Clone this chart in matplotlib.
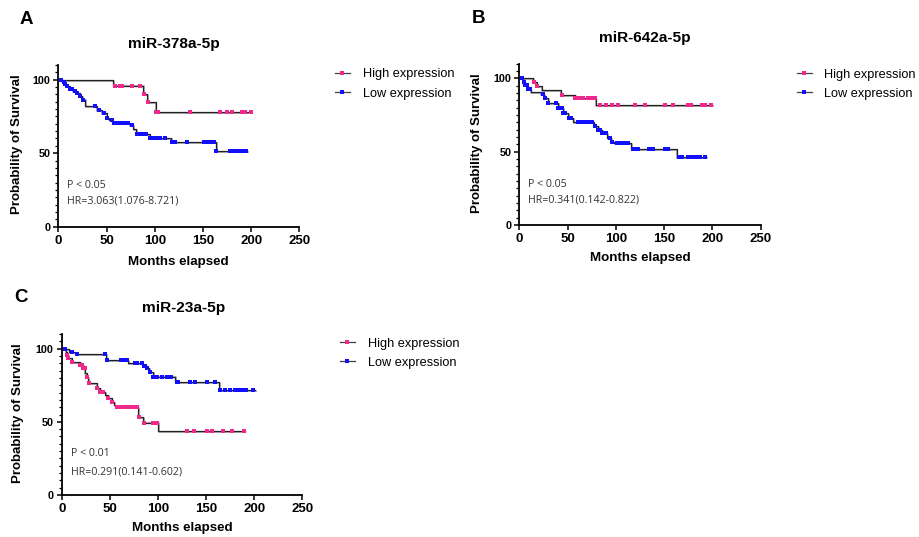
import numpy as np
import matplotlib
matplotlib.use('Agg')
from matplotlib import pyplot as plt
from matplotlib.lines import Line2D
from matplotlib.transforms import offset_copy

plt.rcParams['font.family'] = ['Liberation Sans', 'DejaVu Sans']

PINK = '#f0288c'
BLUE = '#1010ff'

# ---- panel A: miR-378a-5p ----
a_high_t = [0, 57, 88, 92, 101]
a_high_s = [100, 96, 90.3, 84.5, 77.8]
a_high_end = 200
a_high_cens = [59, 64, 66, 76, 85, 89, 93, 101.5, 103, 137, 168, 175, 180, 191, 194, 200]

a_low_t = [0, 4, 6, 9, 12, 15, 19, 22, 25, 28, 40, 45, 50, 53, 56, 74, 78, 81, 95, 117, 164]
a_low_s = [100, 98.5, 97, 95.5, 94, 92.5, 90.8, 89, 86.5, 82.3, 79.6, 77.4, 74, 72.4, 70.5,
           69.2, 66.4, 63, 60.3, 57.8, 51.2]
a_low_end = 196
a_low_cens = [3, 5.5, 7, 9, 12, 14, 17, 19.5, 23, 26, 38, 42, 47, 50.5, 55.7, 58, 61, 63, 64.5,
              66, 68, 70, 72, 76.5, 82, 85, 87, 91, 95.5, 98, 101, 104, 106, 111, 118, 121.5,
              133.5, 151, 154, 158, 161, 164, 178, 182, 184, 186, 189, 191.5, 195]

# ---- panel B: miR-642a-5p ----
b_high_t = [0, 14.5, 18, 23, 43, 57.7, 79]
b_high_s = [100, 97.7, 94.8, 91.8, 88.8, 86.7, 81.8]
b_high_end = 200
b_high_cens = [15, 18.5, 44, 58, 61, 63, 66, 71, 75, 78, 84, 90, 96.5, 102, 120, 130, 151, 159,
               175, 178, 189, 192, 199]

b_low_t = [0, 4, 6, 8.5, 12, 22, 26, 30, 40, 45.5, 50.5, 56, 77, 82, 86, 91, 95, 98, 116, 163]
b_low_s = [100, 97.7, 95.5, 93, 90.6, 89.3, 86.4, 83, 79.5, 76.2, 72.7, 70.0, 67.5, 64.8, 62.5,
           59.1, 56.8, 55.7, 51.6, 46.6]
b_low_end = 193.5
b_low_cens = [2.5, 4.5, 6, 8, 9.5, 11, 25, 27, 30, 38.5, 40.5, 44, 45.5, 47.5, 51, 54, 61, 63,
              64.5, 66, 68, 69.5, 71.5, 75, 78.5, 82, 84, 86, 88, 90, 94, 96, 101, 103, 106, 108,
              113, 118, 121, 123, 134, 136, 138, 151, 152.5, 154.5, 165, 168, 175, 178.5, 181,
              183.5, 187, 192]

# ---- panel C: miR-23a-5p ----
c_high_t = [0, 4, 5.2, 7, 10.4, 19, 22.4, 24.1, 25.8, 27.6, 36.3, 39.8, 45, 48.5, 51.9, 54.3,
            56, 79.6, 84.8, 100.4]
c_high_s = [100, 98, 95.7, 93.4, 91.1, 88.9, 86.6, 83.6, 80.9, 76.5, 72.9, 70.6, 68.4, 66.1,
            63.8, 61.5, 60.4, 53.5, 49.5, 44]
c_high_end = 190
c_high_cens = [3.4, 5.5, 7, 10.4, 19, 21, 22.5, 24, 26, 28, 36.3, 40, 43, 48.5, 52, 57, 59, 61,
               62.5, 64, 66, 68, 70, 72, 74.5, 78, 80, 85, 95, 97, 99, 130.5, 137, 150.5, 156,
               168, 176.5, 189.7]

c_low_t = [0, 8, 14, 46, 69, 84, 88, 91, 95, 118, 163.8]
c_low_s = [100, 98, 96.4, 92.5, 90.5, 88.5, 86.6, 84.3, 81, 77, 72]
c_low_end = 200.8
c_low_cens = [3.4, 10.4, 15.6, 45, 47, 62, 64, 66, 67.5, 76, 78, 83, 85, 86.5, 88.3, 91.7, 95.2,
              98.7, 104, 109, 114, 119.5, 121, 133, 138.5, 150.6, 159.3, 165, 170, 175, 180,
              183.5, 187, 192, 199]

legend_labels = ['High expression', 'Low expression']


def draw_curve(ax, fig, times, surv, end, cens, color):
    xs = list(times) + [end]
    ys = list(surv) + [surv[-1]]
    shadow = offset_copy(ax.transData, fig=fig, x=0.6, y=-0.9, units='dots')
    ax.step(xs, ys, where='post', color='#a0a0a0', lw=1.2, transform=shadow, zorder=2)
    ax.step(xs, ys, where='post', color='#222222', lw=0.9, zorder=3)
    idx = np.searchsorted(np.array(times), np.array(cens), side='right') - 1
    cy = np.array(surv)[idx]
    ax.plot(cens, cy, ls='none', marker='s', ms=2.3, mew=0, color=color, zorder=4)


def panel(fig, rect, letter, letter_xy, title, title_xy, high, low, txt, txt_y,
          ylab_x, xlab_y, leg_xy):
    ax = fig.add_axes(rect)
    draw_curve(ax, fig, *high, PINK)
    draw_curve(ax, fig, *low, BLUE)
    ax.set_xlim(0, 250)
    ax.set_ylim(0, 110)
    ax.set_xticks([0, 50, 100, 150, 200, 250])
    ax.set_yticks([0, 50, 100])
    ax.set_yticks(np.arange(0, 111, 5), minor=True)
    for s in ['top', 'right']:
        ax.spines[s].set_visible(False)
    for s in ['left', 'bottom']:
        ax.spines[s].set_linewidth(1.3)
    ax.tick_params(axis='both', which='major', length=3.8, width=1.1, pad=2)
    ax.tick_params(axis='x', labelsize=9.5)
    ax.tick_params(axis='y', labelsize=7.8)
    ax.tick_params(axis='y', which='minor', length=2.2, width=0.9)
    for lab in ax.get_xticklabels() + ax.get_yticklabels():
        lab.set_fontweight('bold')
    ax.set_xlabel('Months elapsed', fontsize=9.6, fontweight='bold')
    ax.set_ylabel('Probability of Survival', fontsize=9.5, fontweight='bold')
    ax.xaxis.set_label_coords(0.5, xlab_y)
    ax.xaxis.label.set_va('center')
    ax.yaxis.set_label_coords(ylab_x, 0.51)
    ax.yaxis.label.set_va('center')
    ax.text(title_xy[0], title_xy[1], title, transform=ax.transAxes, ha='center', va='center',
            fontsize=11.1, fontweight='bold')
    fig.text(letter_xy[0] / 919, 1 - letter_xy[1] / 537, letter, ha='center', va='center',
             fontsize=13.5, fontweight='bold')
    ax.text(9.5, txt_y[0], txt[0], fontsize=7.7, family=['Open Sans', 'DejaVu Sans'],
            color='#333333', va='center', ha='left')
    ax.text(9.5, txt_y[1], txt[1], fontsize=7.7, family=['Open Sans', 'DejaVu Sans'],
            color='#333333', va='center', ha='left')
    handles = [Line2D([], [], color='#444444', lw=0.9, marker='s', ms=2.3, mew=0, mfc=PINK),
               Line2D([], [], color='#444444', lw=0.9, marker='s', ms=2.3, mew=0, mfc=BLUE)]
    ax.legend(handles, legend_labels, loc='upper left',
              bbox_to_anchor=(leg_xy[0] / 919, 1 - leg_xy[1] / 537),
              bbox_transform=fig.transFigure, frameon=False, borderpad=0, borderaxespad=0,
              handlelength=1.17, handletextpad=1.0, labelspacing=0.57, fontsize=9.2)
    return ax


fig = plt.figure(figsize=(9.19, 5.37), dpi=100)

panel(fig, [58.3 / 919, 1 - 226.7 / 537, 241 / 919, 161.7 / 537], 'A', (25.8, 20),
      'miR-378a-5p', (0.48, 1.13),
      (a_high_t, a_high_s, a_high_end, a_high_cens), (a_low_t, a_low_s, a_low_end, a_low_cens),
      ('P < 0.05', 'HR=3.063(1.076-8.721)'), (27.8, 17.6), -0.171, -0.217, (335, 68.5))

panel(fig, [519.3 / 919, 1 - 225 / 537, 241.4 / 919, 161.4 / 537], 'B', (479, 18.3),
      'miR-642a-5p', (0.52, 1.157),
      (b_high_t, b_high_s, b_high_end, b_high_cens), (b_low_t, b_low_s, b_low_end, b_low_cens),
      ('P < 0.05', 'HR=0.341(0.142-0.822)'), (27.3, 17), -0.176, -0.206, (796.7, 68.6))

panel(fig, [61.7 / 919, 1 - 495 / 537, 240.6 / 919, 160.9 / 537], 'C', (20.8, 297),
      'miR-23a-5p', (0.505, 1.16),
      (c_high_t, c_high_s, c_high_end, c_high_cens), (c_low_t, c_low_s, c_low_end, c_low_cens),
      ('P < 0.01', 'HR=0.291(0.141-0.602)'), (28.5, 16), -0.18, -0.207, (340, 337.6))

fig.savefig('out.png', dpi=100)
plt.close(fig)
